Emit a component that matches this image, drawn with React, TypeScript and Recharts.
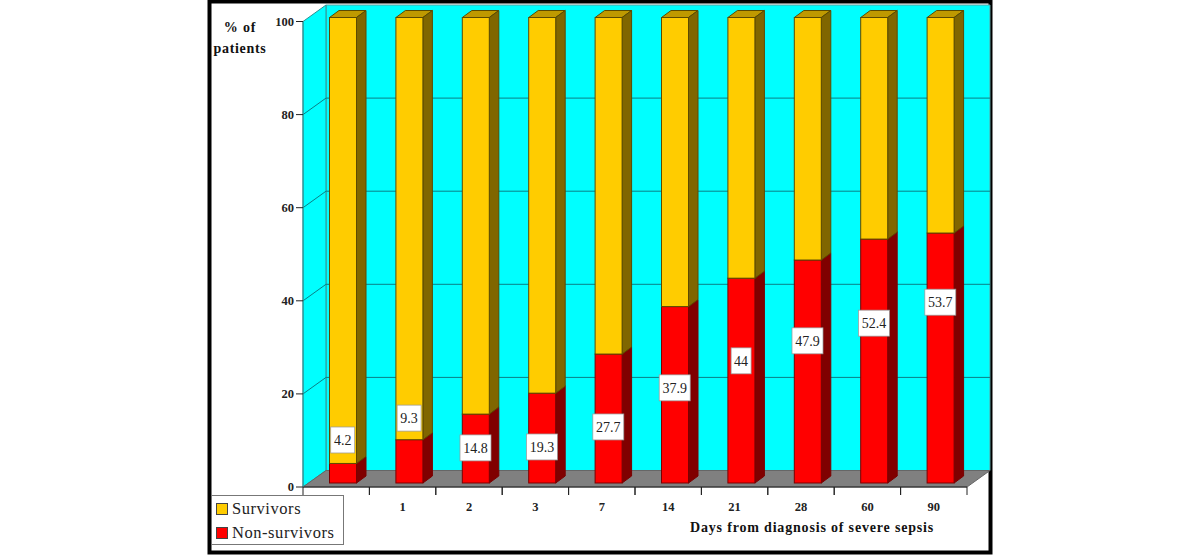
import React from "react";
import { ComposedChart, Bar, Line, XAxis, YAxis, Legend, usePlotArea } from "recharts";

const days = ["", "1", "2", "3", "7", "14", "21", "28", "60", "90"];
const nonSurvivors = [4.2, 9.3, 14.8, 19.3, 27.7, 37.9, 44, 47.9, 52.4, 53.7];
const survivors = [95.8, 90.7, 85.2, 80.7, 72.3, 62.1, 56, 52.1, 47.6, 46.3];
const labelAnchors = [10.1, 14.8, 8.4, 8.6, 12.9, 21.3, 27.1, 31.4, 35.2, 39.7];
const yTicks = [0, 20, 40, 60, 80, 100];

const data = days.map((day, i) => ({
  day,
  nonSurvivors: nonSurvivors[i],
  survivors: survivors[i],
  labelAnchor: labelAnchors[i],
}));

const FONT = '"Liberation Serif", serif';
const WALL_DX = 23;
const WALL_DY = 16.5;
const BAR_SHIFT_X = 6.5;
const BAR_SHIFT_Y = 4;
const BAR_DX = 9.5;
const BAR_DY = 7;
const WALL_LINE = "#0b7f86";

function Backdrop() {
  const area = usePlotArea();
  if (!area) return null;
  const { x, y, width, height } = area;
  const bottom = y + height;
  const right = x + width;
  return (
    <g>
      <rect x={209.5} y={1.5} width={781} height={551} fill="#fff" stroke="#000" strokeWidth={4} />
      <polygon
        points={`${x + WALL_DX},${y - WALL_DY} ${right + WALL_DX},${y - WALL_DY} ${right + WALL_DX},${bottom - WALL_DY} ${x + WALL_DX},${bottom - WALL_DY}`}
        fill="#00ffff"
        stroke="#5f9ea0"
      />
      <polygon
        points={`${x},${y} ${x + WALL_DX},${y - WALL_DY} ${x + WALL_DX},${bottom - WALL_DY} ${x},${bottom}`}
        fill="#00ffff"
        stroke="#2f8f92"
      />
      <polygon
        points={`${x},${bottom} ${x + WALL_DX},${bottom - WALL_DY} ${right + WALL_DX},${bottom - WALL_DY} ${right},${bottom}`}
        fill="#808080"
        stroke="#666"
      />
      {yTicks
        .filter((t) => t > 0 && t < 100)
        .map((t) => {
          const ty = bottom - (height * t) / 100;
          return (
            <g key={t} stroke={WALL_LINE} fill="none">
              <line x1={x} y1={ty} x2={x + WALL_DX} y2={ty - WALL_DY} />
              <line x1={x + WALL_DX} y1={ty - WALL_DY} x2={right + WALL_DX} y2={ty - WALL_DY} />
            </g>
          );
        })}
    </g>
  );
}

function Titles() {
  const style = { fontFamily: FONT, fontWeight: 700, fill: "#111" } as const;
  return (
    <g>
      <text x={240} y={32} textAnchor="middle" fontSize={14} letterSpacing={0.8} style={style}>% of</text>
      <text x={240} y={53} textAnchor="middle" fontSize={14} letterSpacing={0.7} style={style}>patients</text>
      <text x={690} y={532} fontSize={14} letterSpacing={0.82} style={style}>Days from diagnosis of severe sepsis</text>
    </g>
  );
}

function makeBar(front: string, top: string, side: string, edge: string) {
  return function Bar3D(props: any) {
    const x = props.x + BAR_SHIFT_X;
    const y = props.y - BAR_SHIFT_Y;
    const w = props.width;
    const h = props.height;
    return (
      <g stroke={edge} strokeWidth={1}>
        <polygon
          points={`${x},${y} ${x + BAR_DX},${y - BAR_DY} ${x + w + BAR_DX},${y - BAR_DY} ${x + w},${y}`}
          fill={top}
        />
        <polygon
          points={`${x + w},${y} ${x + w + BAR_DX},${y - BAR_DY} ${x + w + BAR_DX},${y + h - BAR_DY} ${x + w},${y + h}`}
          fill={side}
        />
        <rect x={x} y={y} width={w} height={h} fill={front} />
      </g>
    );
  };
}

const RedBar = makeBar("#ff0000", "#bf0000", "#800000", "#7a0000");
const YellowBar = makeBar("#ffcc00", "#bf9900", "#806600", "#5c4a00");

function ValueBox(props: any) {
  const { cx, cy, index } = props;
  const text = String(nonSurvivors[index]);
  const w = text.length * 7 + (text.includes(".") ? 3 : 6);
  const h = 26;
  const bx = cx + BAR_SHIFT_X;
  return (
    <g key={index}>
      <rect x={bx - w / 2} y={cy - h / 2} width={w} height={h} fill="#fff" stroke="#999" strokeWidth={0.75} />
      <text x={bx} y={cy + 5} textAnchor="middle" fontSize={14} fontFamily={FONT} fill="#222">{text}</text>
    </g>
  );
}

function DayTick(props: any) {
  const { x, y, payload, width, visibleTicksCount } = props;
  const half = width / visibleTicksCount / 2;
  return (
    <g>
      <line x1={x - half} y1={y - 8} x2={x - half} y2={y} stroke="#222" />
      <line x1={x + half} y1={y - 8} x2={x + half} y2={y} stroke="#222" />
      <text x={x} y={y + 16} textAnchor="middle" fontSize={12.5} fontWeight={700} fontFamily={FONT} fill="#222">{payload.value}</text>
    </g>
  );
}

function LegendBox(props: any) {
  const items = (props.payload || []).filter((item: any) => item.value !== "labelAnchor").reverse();
  return (
    <div style={{ boxSizing: "border-box", width: 133, height: 50, background: "#fff", border: "1px solid #777", padding: "1px 0 0 4px", fontFamily: FONT, fontSize: 16.5, letterSpacing: 0.55, lineHeight: "24px", color: "#222" }}>
      {items.map((item: any) => (
        <div key={item.value} style={{ display: "flex", alignItems: "center", whiteSpace: "nowrap" }}>
          <span style={{ display: "inline-block", boxSizing: "border-box", width: 12, height: 12, marginRight: 4, background: item.color, border: "1px solid #444" }} />
          {item.value}
        </div>
      ))}
    </div>
  );
}

export default function App() {
  return (
    <div style={{ position: "absolute", left: 0, top: 0, width: 1200, height: 555, background: "#fff" }}>
      <ComposedChart
        width={1200}
        height={555}
        data={data}
        barCategoryGap={0}
        margin={{ left: 243, right: 233, top: 21.5, bottom: 38 }}
      >
        <Backdrop />
        <XAxis
          dataKey="day"
          height={30}
          interval={0}
          tickLine={false}
          tick={<DayTick />}
          axisLine={{ stroke: "#222" }}
        />
        <YAxis
          width={60}
          domain={[0, 100]}
          ticks={yTicks}
          tickSize={7}
          tickLine={{ stroke: "#222" }}
          axisLine={{ stroke: "#2f8f92" }}
          tick={{ fontFamily: FONT, fontWeight: 700, fontSize: 12.5, fill: "#222" }}
        />
        <Bar dataKey="nonSurvivors" name="Non-survivors" stackId="a" barSize={27} fill="#ff0000" shape={<RedBar />} isAnimationActive={false} />
        <Bar dataKey="survivors" name="Survivors" stackId="a" barSize={27} fill="#ffcc00" shape={<YellowBar />} isAnimationActive={false} />
        <Line dataKey="labelAnchor" stroke="none" legendType="none" dot={(p: any) => <ValueBox {...p} />} activeDot={false} isAnimationActive={false} />
        <Legend
          layout="horizontal"
          verticalAlign="middle"
          align="center"
          content={<LegendBox />}
          wrapperStyle={{ left: 211, top: 495, width: 133, height: 50 }}
        />
        <Titles />
      </ComposedChart>
    </div>
  );
}
